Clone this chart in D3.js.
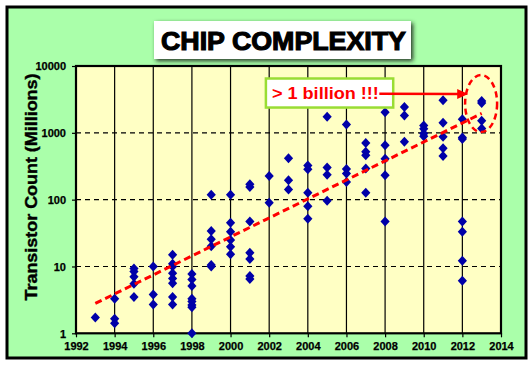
<!DOCTYPE html>
<html><head><meta charset="utf-8">
<script src="https://cdn.jsdelivr.net/npm/d3@7"></script>
<style>html,body{margin:0;padding:0;background:#fff;}svg{display:block;}</style>
</head><body>
<svg id="c" width="532" height="366"></svg>
<script>
// ---- data ----
const years = [1993,1994,1995,1996,1997,1998,1999,2000,2001,2002,2003,2004,2005,2006,2007,2008,2009,2010,2011,2012,2013];
const counts = [
  [1.73],
  [3.3,1.65,1.41],
  [9.3,8.4,7.0,5.5,3.5],
  [10,3.8,2.7],
  [15,11,10,7.9,6.6,5.6,3.5,2.7],
  [7.7,6.4,5.1,3.3,3.0,2.65,2.45,1.0],
  [118,34,25.6,20,10.5,10],
  [118,45,33,25,19.7,15.3],
  [170,155,47,16,12.9,7.2,6.5],
  [225,90],
  [415,195,142],
  [323,284,127,80,52],
  [1740,304,236,96],
  [1330,288,247,183],
  [707,520,463,292,127],
  [2040,650,410,232,47],
  [2430,1810,735],
  [1290,1150,975,890],
  [3070,1410,870,590,450],
  [1590,850,810,47,33,12.2,6.1],
  [3000,2800,1510,1160]
];
const trendYears = [1993, 2013];
const trendValues = [2.8, 1950];
const xTicks = [1992,1994,1996,1998,2000,2002,2004,2006,2008,2010,2012,2014];
const yTicks = [1,10,100,1000,10000];
const titleText = "CHIP COMPLEXITY";
const yTitle = "Transistor Count (Millions)";
const noteText = "> 1 billion !!!";
const noteBox = {x0:2001.83, x1:2008.42, y0:6500, y1:2390};
const arrowFrom = {x:2007.7, v:3850};
const arrowTo = {x:2012.3, v:3800};
const ringCenter = {x:2012.97, v:2740};

// ---- drawing ----
const svg = d3.select("#c");
const defs = svg.append("defs");
const f = defs.append("filter").attr("id","sh").attr("x","-20%").attr("y","-40%").attr("width","140%").attr("height","180%");
f.append("feDropShadow").attr("dx",2).attr("dy",2).attr("stdDeviation",2).attr("flood-color","#1d2a1d").attr("flood-opacity",0.95);

svg.append("rect").attr("x",7).attr("y",7).attr("width",519).attr("height",351)
  .attr("fill","#aaffaa").attr("stroke","#000").attr("stroke-width",3);

const L=76, R=501, T=66, B=333.3;
const x = d3.scaleLinear().domain([1992,2014]).range([L,R]);
const y = d3.scaleLog().domain([1,10000]).range([B,T]);

svg.append("rect").attr("x",L).attr("y",T).attr("width",R-L).attr("height",B-T).attr("fill","#ffffc4");

// vertical grid
svg.append("g").selectAll("line").data(xTicks.slice(1,-1)).join("line")
  .attr("x1",d=>x(d)).attr("x2",d=>x(d)).attr("y1",T).attr("y2",B)
  .attr("stroke","#000").attr("stroke-width",1.2);
// horizontal dashed grid
svg.append("g").selectAll("line").data(yTicks.slice(1,-1)).join("line")
  .attr("x1",L).attr("x2",R).attr("y1",d=>y(d)).attr("y2",d=>y(d))
  .attr("stroke","#000").attr("stroke-width",1.2).attr("stroke-dasharray","5,4");

// axes
const fontTick = "bold 11px 'Liberation Sans', Arial, sans-serif";
const xa = svg.append("g").attr("transform",`translate(0,${B})`)
  .call(d3.axisBottom(x).tickValues(xTicks).tickFormat(d3.format("d")).tickSize(4).tickPadding(5));
const ya = svg.append("g").attr("transform",`translate(${L},0)`)
  .call(d3.axisLeft(y).tickValues(yTicks).tickFormat(d3.format("d")).tickSize(4).tickPadding(6));
[xa,ya].forEach(a=>{
  a.select(".domain").remove();
  a.selectAll("line").attr("stroke","#000").attr("stroke-width",1.2);
  a.selectAll("text").style("font",fontTick).attr("fill","#000").attr("stroke","#000").attr("stroke-width",0.25);
});
ya.selectAll("text").attr("dy","0.35em");

svg.append("rect").attr("x",L).attr("y",T).attr("width",R-L).attr("height",B-T)
  .attr("fill","none").attr("stroke","#000").attr("stroke-width",2.2);

// points
const pts = [];
years.forEach((yr,i)=>counts[i].forEach(v=>pts.push({yr,v})));
svg.append("g").selectAll("path").data(pts).join("path")
  .attr("d","M0,-5L4.6,0L0,5L-4.6,0Z")
  .attr("transform",d=>`translate(${x(d.yr)},${y(d.v)})`)
  .attr("fill","#0000a8");

// trend line
svg.append("line")
  .attr("x1",x(trendYears[0])).attr("y1",y(trendValues[0]))
  .attr("x2",x(trendYears[1])).attr("y2",y(trendValues[1]))
  .attr("stroke","#ff0000").attr("stroke-width",3).attr("stroke-dasharray","7,4");

// ring
svg.append("ellipse").attr("cx",x(ringCenter.x)).attr("cy",y(ringCenter.v))
  .attr("rx",16).attr("ry",28.5)
  .attr("fill","none").attr("stroke","#ff0000").attr("stroke-width",2.5).attr("stroke-dasharray","6,4");

// annotation box
svg.append("rect").attr("x",x(noteBox.x0)).attr("y",y(noteBox.y0))
  .attr("width",x(noteBox.x1)-x(noteBox.x0)).attr("height",y(noteBox.y1)-y(noteBox.y0))
  .attr("fill","#fff").attr("stroke","#99dd33").attr("stroke-width",2.5);
svg.append("text").attr("x",x(noteBox.x0)+6).attr("y",y(noteBox.y1)-9)
  .style("font","bold 16px 'Liberation Sans', Arial, sans-serif").attr("fill","#ff0000")
  .attr("textLength",107).attr("lengthAdjust","spacingAndGlyphs").text(noteText);
// arrow
const ax1=x(arrowFrom.x), ay1=y(arrowFrom.v), ax2=x(arrowTo.x), ay2=y(arrowTo.v);
svg.append("line").attr("x1",ax1).attr("y1",ay1).attr("x2",ax2-8).attr("y2",ay2)
  .attr("stroke","#ff0000").attr("stroke-width",2.5);
svg.append("path").attr("d",`M${ax2},${ay2}L${ax2-11},${ay2-5}L${ax2-11},${ay2+5}Z`).attr("fill","#ff0000");

// title
svg.append("rect").attr("x",154).attr("y",21).attr("width",257).attr("height",38)
  .attr("fill","#fff").attr("filter","url(#sh)");
svg.append("text").attr("x",161).attr("y",50)
  .style("font","900 25px 'Liberation Sans', Arial, sans-serif").attr("fill","#000")
  .attr("stroke","#000").attr("stroke-width",1.1)
  .attr("textLength",245).attr("lengthAdjust","spacingAndGlyphs").text(titleText);

// y title
svg.append("text").attr("transform","translate(37,187) rotate(-90)").attr("text-anchor","middle")
  .style("font","bold 17px 'Liberation Sans', Arial, sans-serif").attr("fill","#000")
  .attr("stroke","#000").attr("stroke-width",0.4)
  .attr("textLength",227).attr("lengthAdjust","spacingAndGlyphs").text(yTitle);
</script>
</body></html>
